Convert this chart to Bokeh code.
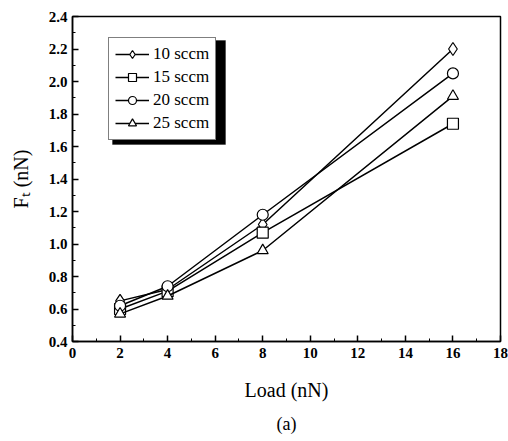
from bokeh.plotting import figure
from bokeh.models import Legend, LegendItem, Range1d, FixedTicker, Title, BoxAnnotation, CustomJSTickFormatter
from bokeh.embed import file_html
from bokeh.resources import INLINE

load = [2, 4, 8, 16]
s10 = [0.65, 0.72, 1.12, 2.20]
s15 = [0.60, 0.71, 1.07, 1.74]
s20 = [0.62, 0.74, 1.18, 2.05]
s25 = [0.57, 0.68, 0.96, 1.91]
names = ["10 sccm", "15 sccm", "20 sccm", "25 sccm"]
markers = ["diamond", "square", "circle", "triangle"]
x_ticks = [0, 2, 4, 6, 8, 10, 12, 14, 16, 18]
y_ticks = [0.4, 0.6, 0.8, 1.0, 1.2, 1.4, 1.6, 1.8, 2.0, 2.2, 2.4]

FONT = "Liberation Serif"

p = figure(width=508, height=441, output_backend="svg", toolbar_location=None,
           x_range=Range1d(0, 18), y_range=Range1d(0.4, 2.4),
           min_border_left=72, min_border_right=8, min_border_top=16, min_border_bottom=99)
p.grid.visible = False
p.outline_line_color = "black"
p.outline_line_width = 1.5
p.background_fill_color = "white"
p.border_fill_color = "white"

p.xaxis.ticker = FixedTicker(ticks=x_ticks, minor_ticks=list(range(0, 19)))
p.yaxis.ticker = FixedTicker(ticks=y_ticks, minor_ticks=[round(0.4 + 0.1 * i, 2) for i in range(21)])
p.yaxis.formatter = CustomJSTickFormatter(code="return tick.toFixed(1);")

for ax in (p.xaxis, p.yaxis):
    ax.major_tick_in = 6
    ax.major_tick_out = 0
    ax.minor_tick_in = 3
    ax.minor_tick_out = 0
    ax.axis_line_width = 1.5
    ax.major_tick_line_width = 1.5
    ax.major_label_text_font = FONT
    ax.major_label_text_font_size = "15px"
    ax.major_label_text_font_style = "bold"
    ax.major_label_text_color = "black"
    ax.axis_label_text_font = FONT
    ax.axis_label_text_font_size = "20px"
    ax.axis_label_text_font_style = "normal"
    ax.axis_label_text_color = "black"

p.xaxis.axis_label = "Load (nN)"
p.yaxis.axis_label = "Fₜ (nN)"
p.xaxis.major_label_standoff = 6
p.yaxis.major_label_standoff = 5
p.xaxis.axis_label_standoff = 18
p.yaxis.axis_label_standoff = 14

items = []
for ys, nm, mk in zip([s10, s15, s20, s25], names, markers):
    r1 = p.line(load, ys, line_color="black", line_width=1.5)
    r2 = p.scatter(load, ys, marker=mk, size=11 if mk != "diamond" else 13,
                   fill_color="white", line_color="black", line_width=1.2)
    items.append(LegendItem(label=nm, renderers=[r1, r2]))

shadow = BoxAnnotation(left=40, right=153, top=301, bottom=197,
                       left_units="screen", right_units="screen",
                       top_units="screen", bottom_units="screen",
                       fill_color="black", fill_alpha=1.0, line_color="black",
                       level="underlay")
p.add_layout(shadow)

legend = Legend(items=items, location=(36, 201))
legend.label_text_font = FONT
legend.label_text_font_size = "17px"
legend.label_text_color = "black"
legend.border_line_color = "black"
legend.border_line_width = 1
legend.background_fill_alpha = 1.0
legend.glyph_width = 34
legend.glyph_height = 20
legend.label_standoff = 4
legend.spacing = 3
legend.padding = 6
legend.margin = 0
p.add_layout(legend, "center")

t = Title(text="(a)", align="center", text_font=FONT, text_font_size="18px",
          text_font_style="normal", text_color="black", standoff=16)
p.add_layout(t, "below")

open("out.html", "w").write(file_html(p, INLINE))
